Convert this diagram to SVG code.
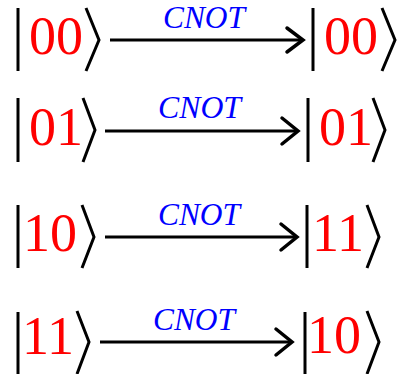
<svg xmlns="http://www.w3.org/2000/svg" width="398" height="374" viewBox="0 0 398 374">
  <defs>
    <style>
      .bar { stroke: #000; stroke-width: 3; fill: none; }
      .ang { stroke: #000; stroke-width: 3; fill: none; stroke-linejoin: miter; }
      .dig { font-family: "Liberation Serif", "Times New Roman", serif; font-size: 54px; fill: #ff0000; }
      .lbl { font-family: "Liberation Serif", "Times New Roman", serif; font-size: 31px; font-style: italic; fill: #0000ff; }
      .ln { stroke: #000; stroke-width: 3; fill: none; }
      .ah { stroke: #000; stroke-width: 3.5; fill: none; stroke-linejoin: miter; stroke-linecap: round; }
    </style>
  </defs>
  <rect width="398" height="374" fill="#fff"/>

  <g id="ket-in-00">
    <line class="bar" x1="18" y1="8" x2="18" y2="71"/>
    <text class="dig" x="29" y="54">00</text>
    <polyline class="ang" points="86,8 99,40 86,71"/>
  </g>
  <g id="ket-out-00">
    <line class="bar" x1="313" y1="8" x2="313" y2="71"/>
    <text class="dig" x="324" y="54">00</text>
    <polyline class="ang" points="382,8 395,40 382,71"/>
  </g>

  <g id="ket-in-01">
    <line class="bar" x1="18" y1="98" x2="18" y2="162"/>
    <text class="dig" x="29" y="145">01</text>
    <polyline class="ang" points="83,98 95,130 83,162"/>
  </g>
  <g id="ket-out-01">
    <line class="bar" x1="308" y1="98" x2="308" y2="162"/>
    <text class="dig" x="319" y="145">01</text>
    <polyline class="ang" points="373,98 385,130 373,162"/>
  </g>

  <g id="ket-in-10">
    <line class="bar" x1="18" y1="205" x2="18" y2="268"/>
    <text class="dig" x="23" y="251">10</text>
    <polyline class="ang" points="82,205 94,237 82,268"/>
  </g>
  <g id="ket-out-11">
    <line class="bar" x1="307" y1="205" x2="307" y2="268"/>
    <text class="dig" x="312" y="251">11</text>
    <polyline class="ang" points="367,205 379,237 367,268"/>
  </g>

  <g id="ket-in-11">
    <line class="bar" x1="18" y1="312" x2="18" y2="375"/>
    <text class="dig" x="22" y="354">11</text>
    <polyline class="ang" points="77,311 89,342 77,374"/>
  </g>
  <g id="ket-out-10">
    <line class="bar" x1="305" y1="312" x2="305" y2="375"/>
    <text class="dig" x="307" y="353">10</text>
    <polyline class="ang" points="367,311 379,342 367,374"/>
  </g>

  <g id="connectors">
    <g id="arrow-1">
      <line class="ln" x1="110" y1="40" x2="302" y2="40"/>
      <polyline class="ah" points="287,28 303,40 287,52"/>
      <text class="lbl" x="163" y="28" textLength="82" lengthAdjust="spacingAndGlyphs">CNOT</text>
    </g>
    <g id="arrow-2">
      <line class="ln" x1="105" y1="131" x2="297" y2="131"/>
      <polyline class="ah" points="282,118 298,131 282,144"/>
      <text class="lbl" x="158" y="118" textLength="83" lengthAdjust="spacingAndGlyphs">CNOT</text>
    </g>
    <g id="arrow-3">
      <line class="ln" x1="105" y1="237" x2="296" y2="237"/>
      <polyline class="ah" points="281,224 297,237 281,250"/>
      <text class="lbl" x="158" y="225" textLength="82" lengthAdjust="spacingAndGlyphs">CNOT</text>
    </g>
    <g id="arrow-4">
      <line class="ln" x1="100" y1="342" x2="291" y2="342"/>
      <polyline class="ah" points="276,329 292,342 276,355"/>
      <text class="lbl" x="153" y="330" textLength="82" lengthAdjust="spacingAndGlyphs">CNOT</text>
    </g>
  </g>
</svg>
